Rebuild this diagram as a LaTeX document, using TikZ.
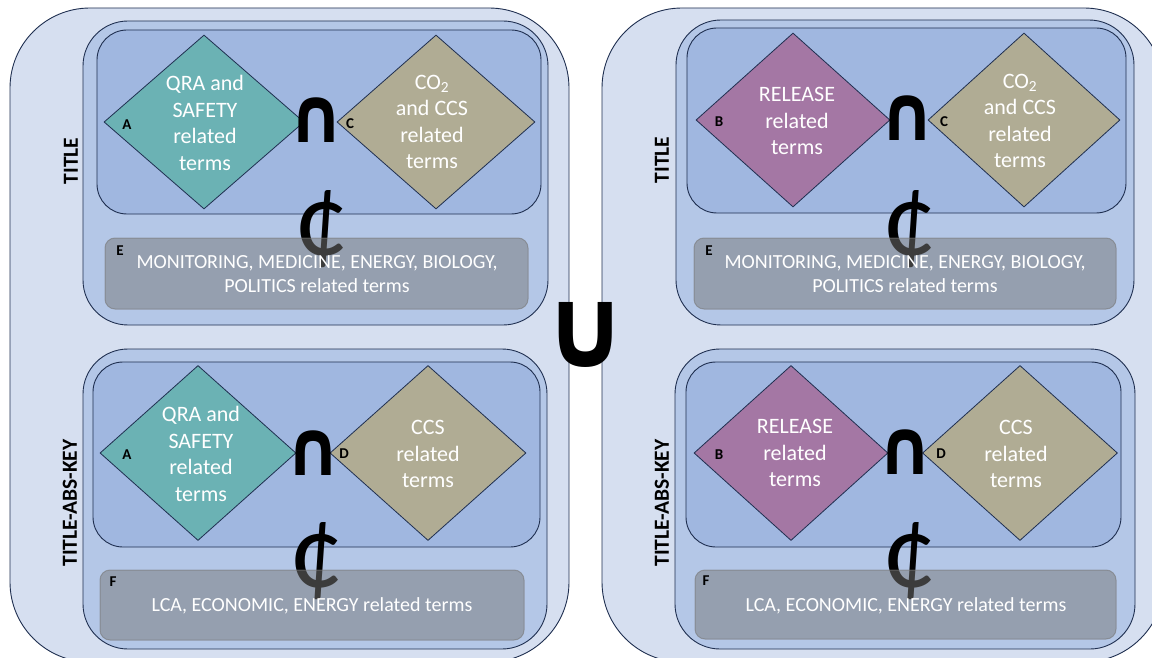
\documentclass[tikz,border=0pt]{standalone}
\usepackage{fontspec}
\setmainfont{Carlito}
\newfontfamily\symfont{DejaVu Sans}
\usetikzlibrary{shapes.geometric}
\definecolor{outerbg}{HTML}{D6DFF0}
\definecolor{midbg}{HTML}{B4C7E7}
\definecolor{innerbg}{HTML}{A0B7E0}
\definecolor{edgecol}{HTML}{1F2F50}
\definecolor{tealc}{HTML}{6BB2B4}
\definecolor{tanc}{HTML}{B0AC94}
\definecolor{purpc}{HTML}{A477A4}
\definecolor{boxgray}{HTML}{787878}
\tikzset{
  outerpanel/.style={draw=edgecol, line width=0.9pt, fill=outerbg, rounded corners=80pt},
  midpanel/.style={draw=edgecol, line width=0.9pt, fill=midbg, rounded corners=45pt},
  innerpanel/.style={draw=edgecol, line width=0.9pt, fill=innerbg, rounded corners=30pt},
  dia/.style={shape=diamond, draw=edgecol, line width=0.8pt, inner sep=0pt, minimum height=174pt},
  diatext/.style={text=white, align=center, font=\fontsize{22}{26.5}\selectfont, inner sep=0pt},
  graybox/.style={draw=boxgray, fill=boxgray, fill opacity=0.5, draw opacity=0.6, line width=1pt, rounded corners=10pt},
  graytext/.style={text=white, align=center, font=\fontsize{20}{24}\selectfont, inner sep=0pt},
  letter/.style={font=\bfseries\fontsize{15}{16}\selectfont, inner sep=0pt},
  sidelabel/.style={rotate=90, font=\bfseries\fontsize{21.5}{22}\selectfont, inner sep=0pt},
  capsym/.style={font=\symfont\bfseries\fontsize{69}{69}\selectfont, inner sep=0pt, yscale=1.12},
  cupsym/.style={font=\symfont\bfseries\fontsize{104}{104}\selectfont, inner sep=0pt, yscale=1.08},
  centsym/.style={font=\fontsize{110}{110}\selectfont, inner sep=0pt},
}
\begin{document}
\begin{tikzpicture}[x=1pt,y=-1pt]
\useasboundingbox (0,0) rectangle (1152,658);
\clip (0,0) rectangle (1152,658);
\fill[white] (0,0) rectangle (1152,658);
% outer panels
\draw[outerpanel] (10,8) rectangle (569,662);
\draw[outerpanel] (602,8) rectangle (1164,662);
% middle panels
\draw[midpanel] (83,21) rectangle (548,325);
\draw[midpanel] (83,349) rectangle (547,649);
\draw[midpanel] (676,20) rectangle (1134,325);
\draw[midpanel] (675,349) rectangle (1135,649);
% inner panels
\draw[innerpanel] (97,30) rectangle (541,214);
\draw[innerpanel] (93,362) rectangle (540,547);
\draw[innerpanel] (687,28) rectangle (1126,213);
\draw[innerpanel] (686,362) rectangle (1121,547);
% diamonds
\node[dia, fill=tealc, minimum width=200pt] (A1) at (204,122) {};
\node[dia, fill=tanc, minimum width=198pt] (C1) at (436,122) {};
\node[dia, fill=tealc, minimum width=196pt, minimum height=175pt] (A2) at (198,453) {};
\node[dia, fill=tanc, minimum width=196pt, minimum height=175pt] (D1) at (428,453) {};
\node[dia, fill=purpc, minimum width=194pt] (B1) at (793,120) {};
\node[dia, fill=tanc, minimum width=192pt] (C2) at (1024,120) {};
\node[dia, fill=purpc, minimum width=194pt, minimum height=175pt] (B2) at (791,453) {};
\node[dia, fill=tanc, minimum width=195pt, minimum height=175pt] (D2) at (1020,453) {};
% cent signs
\node[centsym] (n1) at (322,229) {¢};
\node[centsym] (n2) at (910,229) {¢};
\node[centsym] (n3) at (317,561) {¢};
\node[centsym] (n4) at (910,561) {¢};
% gray boxes
\draw[graybox] (105,238) rectangle (528,309);
\draw[graybox] (100,570) rectangle (524,640);
\draw[graybox] (694,238) rectangle (1116,309);
\draw[graybox] (695,570) rectangle (1116,639);
\node[graytext] (E1t) at (317,274) {MONITORING, MEDICINE, ENERGY, BIOLOGY,\\POLITICS related terms};
\node[graytext] (F1t) at (312,606) {LCA, ECONOMIC, ENERGY related terms};
\node[graytext] (E2t) at (905,274) {MONITORING, MEDICINE, ENERGY, BIOLOGY,\\POLITICS related terms};
\node[graytext] (F2t) at (906,606) {LCA, ECONOMIC, ENERGY related terms};
\node[letter] (E1) at (120,251) {E};
\node[letter] (F1) at (113,582) {F};
\node[letter] (E2) at (709,251) {E};
\node[letter] (F2) at (706,581) {F};
% diamond texts
\node[diatext] (A1t) at (205,123) {QRA and\\SAFETY\\related\\terms};
\node[diatext] (C1t) at (432,122) {CO\textsubscript{2}\\and CCS\\related\\terms};
\node[diatext] (A2t) at (201,454) {QRA and\\SAFETY\\related\\terms};
\node[diatext] (D1t) at (428,454) {CCS\\related\\terms};
\node[diatext] (B1t) at (797,121) {RELEASE\\related\\terms};
\node[diatext] (C2t) at (1020,121) {CO\textsubscript{2}\\and CCS\\related\\terms};
\node[diatext] (B2t) at (795,453) {RELEASE\\related\\terms};
\node[diatext] (D2t) at (1016,454) {CCS\\related\\terms};
\node[letter] (A1l) at (127,125) {A};
\node[letter] (C1l) at (350,124) {C};
\node[letter] (A2l) at (127,455) {A};
\node[letter] (D1l) at (344,454) {D};
\node[letter] (B1l) at (719,122) {B};
\node[letter] (C2l) at (944,122) {C};
\node[letter] (B2l) at (719,455) {B};
\node[letter] (D2l) at (941,454) {D};
% side labels
\node[sidelabel] (s1) at (71,161) {TITLE};
\node[sidelabel] (s2) at (70,503) {TITLE-ABS-KEY};
\node[sidelabel] (s3) at (662,160) {TITLE};
\node[sidelabel] (s4) at (662,503) {TITLE-ABS-KEY};
% intersections and union
\node[capsym] (i1) at (317,120) {∩};
\node[capsym] (i2) at (908,118) {∩};
\node[capsym] (i3) at (314,453) {∩};
\node[capsym] (i4) at (906,452) {∩};
\node[cupsym] (u) at (586,335) {∪};
\end{tikzpicture}
\end{document}
